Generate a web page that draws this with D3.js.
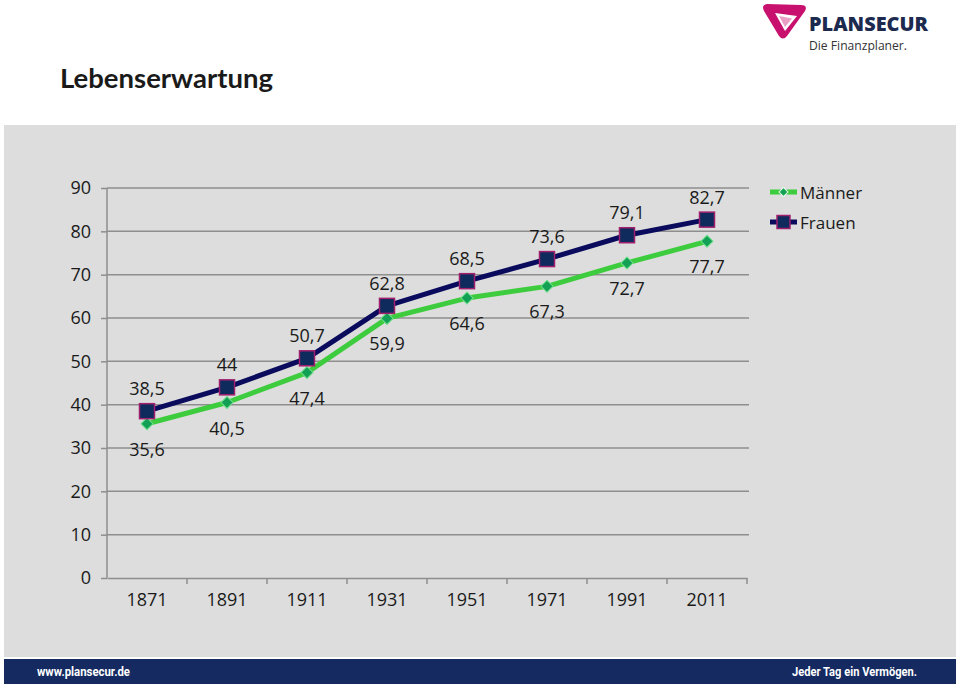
<!DOCTYPE html>
<html>
<head>
<meta charset="utf-8">
<script src="https://cdn.jsdelivr.net/npm/d3@7"></script>
<style>
  html, body { margin: 0; padding: 0; background: #ffffff; }
  svg { display: block; }
</style>
</head>
<body>
<svg id="chart" width="960" height="686"></svg>
<script>
const years = ["1871", "1891", "1911", "1931", "1951", "1971", "1991", "2011"];
const maenner = [35.6, 40.5, 47.4, 59.9, 64.6, 67.3, 72.7, 77.7];
const frauen = [38.5, 44, 50.7, 62.8, 68.5, 73.6, 79.1, 82.7];
const yTicks = [0, 10, 20, 30, 40, 50, 60, 70, 80, 90];
const seriesNames = ["Männer", "Frauen"];
const title = "Lebenserwartung";

const fmt = v => String(v).replace(".", ",");
const font = "'Open Sans', 'Noto Sans', sans-serif";
const numSize = 18;

const svg = d3.select("#chart");

// panel
svg.append("rect").attr("x", 4).attr("y", 125).attr("width", 952).attr("height", 532).attr("fill", "#dcdddc");
// footer
svg.append("rect").attr("x", 4).attr("y", 659).attr("width", 952).attr("height", 25).attr("fill", "#142a60");
svg.append("text").attr("x", 37).attr("y", 676).attr("fill", "#fff")
  .attr("font-family", "Roboto, sans-serif").attr("font-weight", "bold").attr("font-size", 13)
  .attr("textLength", 93).attr("lengthAdjust", "spacingAndGlyphs")
  .text("www.plansecur.de");
svg.append("text").attr("x", 792).attr("y", 676).attr("fill", "#fff")
  .attr("font-family", "Roboto, sans-serif").attr("font-weight", "bold").attr("font-size", 13)
  .attr("textLength", 125).attr("lengthAdjust", "spacingAndGlyphs")
  .text("Jeder Tag ein Vermögen.");

// title
svg.append("text").attr("x", 60).attr("y", 88).attr("fill", "#1a1a1a")
  .attr("font-family", "Lato, 'Noto Sans', sans-serif").attr("font-weight", "bold").attr("font-size", 27)
  .attr("textLength", 213).attr("lengthAdjust", "spacingAndGlyphs")
  .text(title);

// logo
const logo = svg.append("g");
logo.append("path")
  .attr("d", "M767,4 Q761,5 764,11 L779,36 Q783,41 787,36 L805,11 Q808,5 801,5 Z")
  .attr("fill", "#c8106e");
logo.append("path")
  .attr("d", "M775,13 L797,16 L785,31 Z")
  .attr("fill", "#ffffff");
logo.append("path")
  .attr("d", "M779,16 L792,18.5 L785,27 Z")
  .attr("fill", "#e9a0c4");
logo.append("text").attr("x", 809).attr("y", 31).attr("fill", "#1d2a4f")
  .attr("font-family", "'Open Sans', sans-serif").attr("font-weight", "800").attr("font-size", 20)
  .attr("textLength", 119).attr("lengthAdjust", "spacingAndGlyphs")
  .text("PLANSECUR");
logo.append("text").attr("x", 809).attr("y", 50).attr("fill", "#333")
  .attr("font-family", "'Open Sans', sans-serif").attr("font-size", 12.5)
  .attr("textLength", 98).attr("lengthAdjust", "spacingAndGlyphs")
  .text("Die Finanzplaner.");

// scales
const x = d3.scaleBand().domain(years).range([107, 747]).padding(0);
const y = d3.scaleLinear().domain([0, 90]).range([578, 188]);
const cx = d => x(d) + x.bandwidth() / 2;

// gridlines
svg.append("g").selectAll("line").data(yTicks.filter(t => t > 0)).join("line")
  .attr("x1", 107).attr("x2", 749).attr("y1", d => y(d)).attr("y2", d => y(d))
  .attr("stroke", "#8e8e8e").attr("stroke-width", 1.5);

// y axis
const yAxis = svg.append("g").attr("transform", "translate(107,0)")
  .call(d3.axisLeft(y).tickValues(yTicks).tickSize(6).tickPadding(10).tickFormat(d => d));
yAxis.select(".domain").attr("stroke", "#8e8e8e").attr("stroke-width", 1.5).attr("d", "M0,578V188");
yAxis.selectAll(".tick line").attr("stroke", "#8e8e8e").attr("stroke-width", 1.5);
yAxis.selectAll("text").attr("font-family", font).attr("font-size", numSize).attr("fill", "#1a1a1a");

// x axis
const xAxis = svg.append("g").attr("transform", "translate(0,578)")
  .call(d3.axisBottom(x).tickSize(0).tickPadding(15));
xAxis.select(".domain").attr("stroke", "#8e8e8e").attr("stroke-width", 1.5);
xAxis.selectAll("text").attr("font-family", font).attr("font-size", numSize).attr("fill", "#1a1a1a");
// band boundary ticks
svg.append("g").selectAll("line").data(years.slice(1).concat(["end"])).join("line")
  .attr("x1", d => d === "end" ? 747 : x(d)).attr("x2", d => d === "end" ? 747 : x(d))
  .attr("y1", 578).attr("y2", 584).attr("stroke", "#8e8e8e").attr("stroke-width", 1.5);

const line = d3.line().x((d, i) => cx(years[i])).y(d => y(d));

// Männer
svg.append("path").datum(maenner).attr("d", line).attr("fill", "none")
  .attr("stroke", "#3dcc3d").attr("stroke-width", 5).attr("stroke-linejoin", "round");
// Frauen
svg.append("path").datum(frauen).attr("d", line).attr("fill", "none")
  .attr("stroke", "#0b0b5e").attr("stroke-width", 5).attr("stroke-linejoin", "round");

// markers Männer (diamonds)
svg.append("g").selectAll("path").data(maenner).join("path")
  .attr("d", d3.symbol().type(d3.symbolSquare).size(72))
  .attr("transform", (d, i) => `translate(${cx(years[i])},${y(d)}) rotate(45)`)
  .attr("fill", "#12a055").attr("stroke", "#6ee08a").attr("stroke-width", 1);

// markers Frauen (squares)
svg.append("g").selectAll("rect").data(frauen).join("rect")
  .attr("x", (d, i) => cx(years[i]) - 7.5).attr("y", d => y(d) - 7.5)
  .attr("width", 15).attr("height", 15)
  .attr("fill", "#0f2a5c").attr("stroke", "#a0206e").attr("stroke-width", 1.5);

// labels
svg.append("g").selectAll("text").data(frauen).join("text")
  .attr("x", (d, i) => cx(years[i])).attr("y", d => y(d) - 23)
  .attr("text-anchor", "middle").attr("dominant-baseline", "central")
  .attr("font-family", font).attr("font-size", numSize).attr("fill", "#1a1a1a")
  .text(d => fmt(d));
svg.append("g").selectAll("text").data(maenner).join("text")
  .attr("x", (d, i) => cx(years[i])).attr("y", d => y(d) + 25)
  .attr("text-anchor", "middle").attr("dominant-baseline", "central")
  .attr("font-family", font).attr("font-size", numSize).attr("fill", "#1a1a1a")
  .text(d => fmt(d));

// legend
const legend = svg.append("g");
const legendColors = [
  { line: "#3dcc3d", type: "diamond" },
  { line: "#0b0b5e", type: "square" }
];
seriesNames.forEach((name, i) => {
  const ly = 192 + i * 30;
  legend.append("line").attr("x1", 770).attr("x2", 797).attr("y1", ly).attr("y2", ly)
    .attr("stroke", legendColors[i].line).attr("stroke-width", 5);
  if (legendColors[i].type === "diamond") {
    legend.append("path").attr("d", d3.symbol().type(d3.symbolSquare).size(40))
      .attr("transform", `translate(783.5,${ly}) rotate(45)`)
      .attr("fill", "#12a055").attr("stroke", "#e6fbe9").attr("stroke-width", 1);
  } else {
    legend.append("rect").attr("x", 777).attr("y", ly - 6.5).attr("width", 13).attr("height", 13)
      .attr("fill", "#0f2a5c").attr("stroke", "#a0206e").attr("stroke-width", 1.5);
  }
  legend.append("text").attr("x", 800).attr("y", ly).attr("dominant-baseline", "central")
    .attr("font-family", font).attr("font-size", 17).attr("fill", "#1a1a1a").text(name);
});
</script>
</body>
</html>
